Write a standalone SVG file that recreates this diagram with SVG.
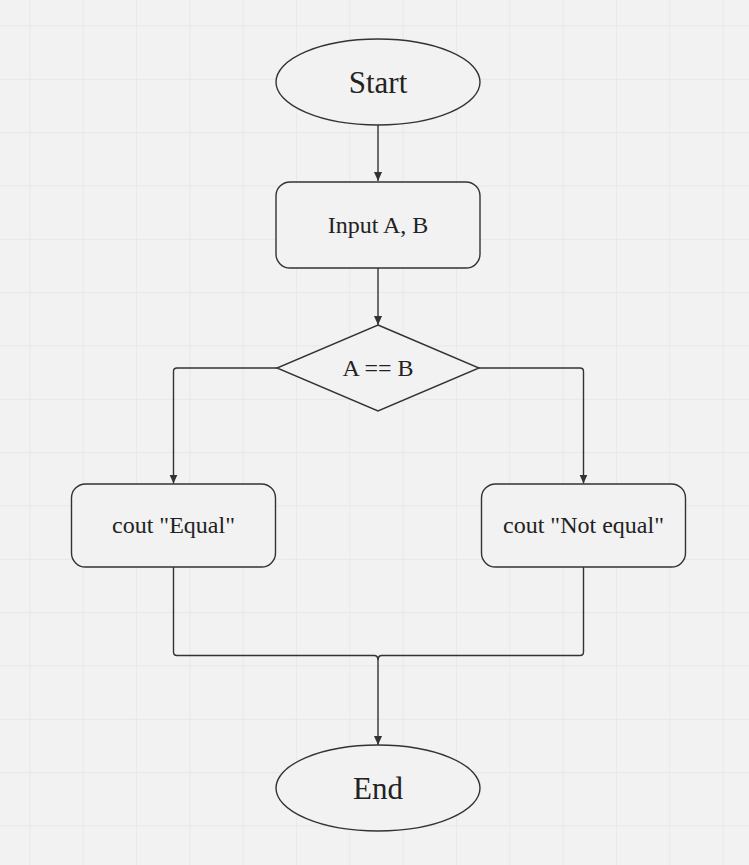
<svg xmlns="http://www.w3.org/2000/svg" width="749" height="865" viewBox="0 0 749 865">
  <defs>
    <pattern id="grid" x="29.3" y="25.5" width="53.33" height="53.33" patternUnits="userSpaceOnUse">
      <path d="M0 0 H53.33 M0 0 V53.33" fill="none" stroke="#e4e4e4" stroke-width="1.3"/>
    </pattern>
    <marker id="arrow" viewBox="0 0 10 10" refX="10" refY="5" markerWidth="9" markerHeight="9" markerUnits="userSpaceOnUse" orient="auto">
      <path d="M0 0.5 L10 5 L0 9.5 Z" fill="#333333"/>
    </marker>
  </defs>
  <style>
    .shape { fill: #f2f2f2; stroke: #333333; stroke-width: 1.4; }
    .edge { fill: none; stroke: #333333; stroke-width: 1.4; }
    .big { font-family: "Liberation Serif", "Times New Roman", serif; font-size: 31px; fill: #222222; text-anchor: middle; }
    .lbl { font-family: "Liberation Serif", "Times New Roman", serif; font-size: 24px; fill: #222222; text-anchor: middle; }
  </style>
  <rect x="0" y="0" width="749" height="865" fill="#f2f2f2"/>
  <rect x="0" y="0" width="749" height="865" fill="url(#grid)"/>

  <g id="connectors">
    <path class="edge" d="M378 125 V181" marker-end="url(#arrow)"/>
    <path class="edge" d="M378 268 V325" marker-end="url(#arrow)"/>
    <path class="edge" d="M277 368 H177 Q173.5 368 173.5 371.5 V483.5" marker-end="url(#arrow)"/>
    <path class="edge" d="M479 368 H580 Q583.5 368 583.5 371.5 V483.5" marker-end="url(#arrow)"/>
    <path class="edge" d="M173.5 567 V652 Q173.5 655.5 177 655.5 H374 Q378 655.5 378 660"/>
    <path class="edge" d="M583.5 567 V652 Q583.5 655.5 580 655.5 H382 Q378 655.5 378 660 V745" marker-end="url(#arrow)"/>
  </g>

  <g id="start">
    <ellipse class="shape" cx="378" cy="82" rx="102" ry="43"/>
    <text class="big" x="378" y="92.5">Start</text>
  </g>
  <g id="input">
    <rect class="shape" x="276" y="182" width="204" height="86" rx="14" ry="14"/>
    <text class="lbl" x="378" y="232.5">Input A, B</text>
  </g>
  <g id="decision">
    <polygon class="shape" points="378,325 479,368 378,411 277,368"/>
    <text class="lbl" x="378" y="376">A == B</text>
  </g>
  <g id="equal">
    <rect class="shape" x="71.5" y="484" width="204" height="83" rx="14" ry="14"/>
    <text class="lbl" x="173.5" y="532.5">cout "Equal"</text>
  </g>
  <g id="notequal">
    <rect class="shape" x="481.5" y="484" width="204" height="83" rx="14" ry="14"/>
    <text class="lbl" x="583.5" y="532.5">cout "Not equal"</text>
  </g>
  <g id="end">
    <ellipse class="shape" cx="378" cy="788" rx="102" ry="43"/>
    <text class="big" x="378" y="799">End</text>
  </g>
</svg>
